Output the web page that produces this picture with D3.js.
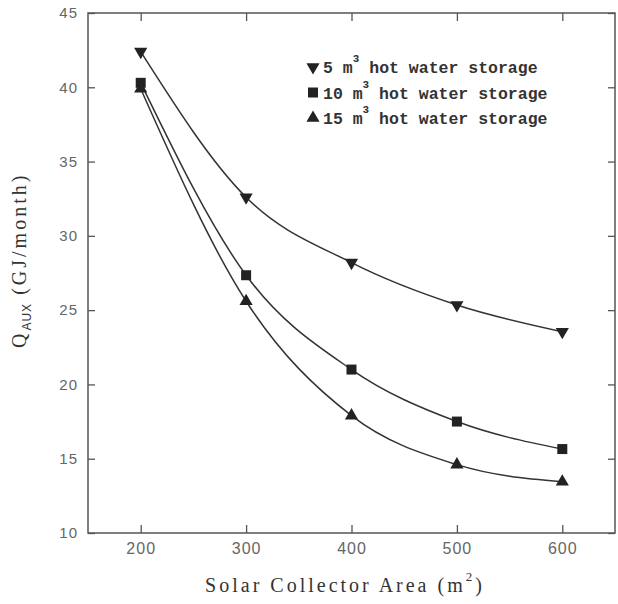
<!DOCTYPE html>
<html>
<head>
<meta charset="utf-8">
<script src="https://cdn.jsdelivr.net/npm/d3@7"></script>
<style>
  body { margin: 0; background: #fff; }
  svg { display: block; }
  .tick text { fill: #666; }
</style>
</head>
<body>
<div id="chart"></div>
<script>
// collector area (m2)
var areas = [200, 300, 400, 500, 600];
// Q_AUX (GJ/month) per storage volume
var store5 = [42.4, 32.6, 28.2, 25.35, 23.55];
var store10 = [40.3, 27.35, 21.0, 17.5, 15.65];
var store15 = [39.9, 25.6, 17.9, 14.6, 13.45];
var seriesNames = ["5", "10", "15"];
var xTicks = [200, 300, 400, 500, 600];
var yTicks = [10, 15, 20, 25, 30, 35, 40, 45];

var w = 618, h = 604;
// plot frame (note: "top" is reserved on window, so use own names)
var padL = 88, padR = 615, padT = 13, padB = 533;

var svg = d3.select("#chart").append("svg")
    .attr("width", w).attr("height", h);

var xScale = d3.scaleLinear().domain([150, 650]).range([padL, padR]);
var yScale = d3.scaleLinear().domain([10, 45]).range([padB, padT]);

// frame
svg.append("rect")
    .attr("x", padL).attr("y", padT)
    .attr("width", padR - padL).attr("height", padB - padT)
    .attr("fill", "none").attr("stroke", "#555").attr("stroke-width", 1.5);

// axes, ticks point inward
var axisStyle = function(g) {
    g.select(".domain").remove();
    g.selectAll(".tick line").attr("stroke", "#555").attr("stroke-width", 1.3);
    g.selectAll(".tick text")
        .style("font-family", "Liberation Sans, Arial, sans-serif")
        .style("letter-spacing", "1px");
};
svg.append("g").attr("transform", "translate(0," + padB + ")")
    .call(d3.axisBottom(xScale).tickValues(xTicks).tickSizeInner(-8).tickPadding(10))
    .call(axisStyle)
    .selectAll(".tick text").style("font-size", "16px");
svg.append("g").attr("transform", "translate(0," + padT + ")")
    .call(d3.axisTop(xScale).tickValues(xTicks).tickSizeInner(-8).tickFormat(""))
    .call(axisStyle);
svg.append("g").attr("transform", "translate(" + padL + ",0)")
    .call(d3.axisLeft(yScale).tickValues(yTicks).tickSizeInner(-7).tickPadding(10))
    .call(axisStyle)
    .selectAll(".tick text").style("font-size", "15px");
svg.append("g").attr("transform", "translate(" + padR + ",0)")
    .call(d3.axisRight(yScale).tickValues(yTicks).tickSizeInner(-7).tickFormat(""))
    .call(axisStyle);

// lines
var allSeries = [store5, store10, store15];
var line = d3.line()
    .x(function(d, i) { return xScale(areas[i]); })
    .y(function(d) { return yScale(d); })
    .curve(d3.curveMonotoneX);

svg.selectAll(".line").data(allSeries).enter()
    .append("path")
    .attr("class", "line")
    .attr("d", line)
    .attr("fill", "none")
    .attr("stroke", "#333")
    .attr("stroke-width", 1.5);

// markers
var shapes = [
    d3.symbol().type(d3.symbolTriangle).size(75),
    d3.symbol().type(d3.symbolSquare).size(100),
    d3.symbol().type(d3.symbolTriangle).size(75)
];
var rotations = [180, 0, 0];

allSeries.forEach(function(s, k) {
    svg.selectAll(".m" + k).data(s).enter()
        .append("path")
        .attr("class", "m" + k)
        .attr("d", shapes[k])
        .attr("transform", function(d, i) {
            return "translate(" + xScale(areas[i]) + "," + yScale(d) + ") rotate(" + rotations[k] + ")";
        })
        .attr("fill", "#222");
});

// legend
var legend = svg.append("g").attr("transform", "translate(313,67)");
seriesNames.forEach(function(name, k) {
    var row = legend.append("g").attr("transform", "translate(0," + (k * 25.5) + ")");
    row.append("path")
        .attr("d", shapes[k])
        .attr("transform", "rotate(" + rotations[k] + ")")
        .attr("fill", "#222");
    var t = row.append("text")
        .attr("x", 10).attr("y", 6)
        .style("font-family", "Liberation Mono, DejaVu Sans Mono, monospace")
        .style("font-size", "16.5px")
        .style("font-weight", "bold")
        .attr("fill", "#333");
    t.append("tspan").text(name + " m");
    t.append("tspan").attr("dy", -11).style("font-size", "11px").text("3");
    t.append("tspan").attr("dy", 11).text(" hot water storage");
});

// axis titles
var xt = svg.append("text")
    .attr("x", 345).attr("y", 592)
    .attr("text-anchor", "middle")
    .style("font-family", "Liberation Serif, Times New Roman, serif")
    .style("font-size", "20px")
    .style("letter-spacing", "3px")
    .attr("fill", "#333");
xt.append("tspan").text("Solar Collector Area (m");
xt.append("tspan").attr("dy", -11).style("font-size", "13px").text("2");
xt.append("tspan").attr("dy", 11).text(")");

var yt = svg.append("text")
    .attr("transform", "translate(26,348) rotate(-90)")
    .attr("text-anchor", "start")
    .style("font-family", "Liberation Serif, Times New Roman, serif")
    .style("font-size", "20px")
    .style("letter-spacing", "3px")
    .attr("fill", "#333");
yt.append("tspan").text("Q");
yt.append("tspan").attr("dy", 5)
    .style("font-family", "Liberation Sans, Arial, sans-serif")
    .style("font-size", "12px").style("letter-spacing", "1px").text("AUX");
yt.append("tspan").attr("dy", -5).text(" (GJ/month)");
</script>
</body>
</html>
